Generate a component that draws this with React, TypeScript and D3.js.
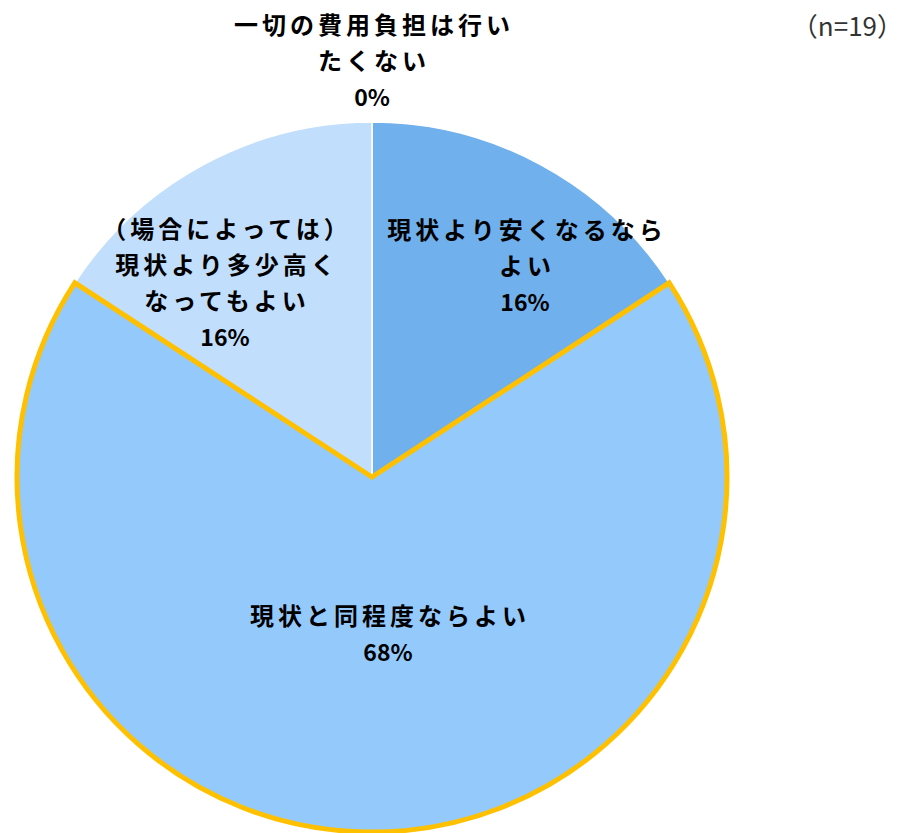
import React from 'react';
import * as d3 from 'd3';

const categories = [
  '現状より安くなるならよい',
  '現状と同程度ならよい',
  '（場合によっては）現状より多少高くなってもよい',
  '一切の費用負担は行いたくない',
];
const counts = [3, 13, 3, 0];
const percentLabels = ['16%', '68%', '16%', '0%'];
const labelLines = [
  ['現状より安くなるなら', 'よい'],
  ['現状と同程度ならよい'],
  ['（場合によっては）', '現状より多少高く', 'なってもよい'],
  ['一切の費用負担は行い', 'たくない'],
];
const colors = ['#70B0EC', '#94C9FC', '#C2DEFD', '#5B9BD5'];

const W = 906;
const H = 833;
const cx = 372;
const cy = 477;
const R = 355;
// label offsets from the pie centre (Excel "best fit" placement)
const labelPos: [number, number][] = [
  [153, -210],
  [16, 158],
  [-147, -193],
  [0, -415],
];

const App = () => {
  const pie = d3.pie<number>().sort(null).value((d) => d);
  const arcs = pie(counts);
  const arc = d3.arc<d3.PieArcDatum<number>>().innerRadius(0).outerRadius(R);
  const order = [0, 2, 3, 1];
  const lh = 36;
  const ls = 4;

  return (
    <svg width={W} height={H} style={{ position: 'absolute', left: 0, top: 0 }}
      fontFamily="'Noto Sans CJK JP', sans-serif">
      <rect width={W} height={H} fill="#fff" />
      <g transform={`translate(${cx},${cy})`}>
        {order.map((i) => {
          const a = arcs[i];
          if (a.endAngle - a.startAngle <= 0) return null;
          const hi = i === 1;
          return (
            <path key={categories[i]} d={arc(a) || ''} fill={colors[i]}
              stroke={hi ? '#FFC000' : '#fff'} strokeWidth={hi ? 5 : 1.5}
              strokeLinejoin="miter" />
          );
        })}
        {labelLines.map((lines, i) => {
          const all = [...lines, percentLabels[i]];
          const [lx, ly] = labelPos[i];
          const y0 = ly - ((all.length - 1) * lh) / 2;
          return (
            <text key={i} textAnchor="middle" fontWeight="bold" fill="#000">
              {all.map((t, j) => {
                const pct = j === all.length - 1;
                return (
                  <tspan key={j} x={lx + (pct ? 0 : ls / 2)} y={y0 + j * lh} dy="0.35em"
                    fontSize={pct ? 23 : 24} letterSpacing={pct ? 0 : ls}>{t}</tspan>
                );
              })}
            </text>
          );
        })}
      </g>
      <text x={903} y={27} dy="0.35em" textAnchor="end" fontSize={26} fill="#333">（n=19）</text>
    </svg>
  );
};

export default App;
